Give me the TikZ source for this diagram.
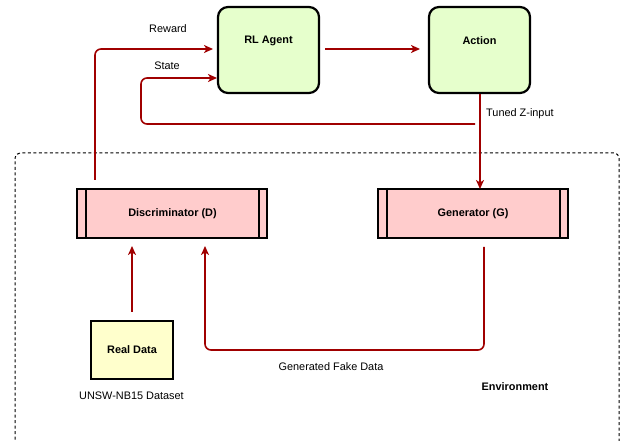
\documentclass[tikz,border=0pt]{standalone}
\usepackage{fontspec}
\setmainfont{Liberation Sans}
\usetikzlibrary{arrows.meta}
\definecolor{arr}{HTML}{A00000}
\definecolor{agentfill}{HTML}{E6FFCC}
\definecolor{ganfill}{HTML}{FFCCCC}
\definecolor{datafill}{HTML}{FFFFCC}
\tikzset{
  x=1pt, y=-1pt,
  agentbox/.style={draw=black, line width=2.2pt, fill=agentfill, rounded corners=10pt, minimum width=101pt, minimum height=86pt, inner sep=0pt},
  ganbox/.style={draw=black, line width=2pt, fill=ganfill, minimum width=190pt, minimum height=49pt, inner sep=0pt},
  databox/.style={draw=black, line width=2.2pt, fill=datafill, minimum width=82pt, minimum height=58pt, inner sep=0pt},
  flow/.style={draw=arr, line width=1.6pt, rounded corners=6pt, -{Stealth[length=9pt,width=8pt,inset=2.5pt]}},
  lbl/.style={font=\fontsize{10.9}{12}\selectfont, inner sep=0pt},
  blbl/.style={font=\fontsize{10.9}{12}\selectfont\bfseries, inner sep=0pt},
}
\begin{document}
\begin{tikzpicture}
\useasboundingbox (0,0) rectangle (641,441);
% environment dashed frame
\draw[line width=1pt, dash pattern=on 3pt off 2.5pt, rounded corners=5pt] (15,445) -- (15,153) -- (619,153) -- (619,445);
% top nodes
\node[agentbox] (agent) at (268.5,50) {};
\node[blbl] (agentt) at (268.5,41) {RL Agent};
\node[agentbox] (action) at (479.5,50) {};
\node[blbl] (actiont) at (479.5,41) {Action};
% GAN boxes
\node[ganbox] (disc) at (172,213.5) {};
\draw[line width=2pt] ([xshift=10pt]disc.north west) -- ([xshift=10pt]disc.south west)
  ([xshift=-9pt]disc.north east) -- ([xshift=-9pt]disc.south east);
\node[blbl] (disct) at (172.5,214) {Discriminator (D)};
\node[ganbox] (gen) at (473,213.5) {};
\draw[line width=2pt] ([xshift=10pt]gen.north west) -- ([xshift=10pt]gen.south west)
  ([xshift=-9pt]gen.north east) -- ([xshift=-9pt]gen.south east);
\node[blbl] (gent) at (473,214) {Generator (G)};
% real data
\node[databox] (real) at (132,350) {};
\node[blbl] (realt) at (132,350) {Real Data};
\node[lbl] (unsw) at (131.5,396) {UNSW-NB15 Dataset};
% labels
\node[lbl] (reward) at (168,29) {Reward};
\node[lbl] (state) at (167,66) {State};
\node[lbl, anchor=west] (tuned) at (486,114) {Tuned Z-input};
\node[lbl] (fake) at (331,367) {Generated Fake Data};
\node[blbl] (env) at (515,387) {Environment};
% coordinates
\coordinate (rwS) at (95,180);
\coordinate (rwE) at (213,49);
\coordinate (stS) at (475,124);
\coordinate (stE) at (217,78);
\coordinate (rdS) at (132,312);
\coordinate (rdE) at (132,246);
\coordinate (fkS) at (484,247);
\coordinate (fkE) at (205,246);
% connectors
\draw[flow] (rwS) -- (95,49) -- (rwE);
\draw[flow] (stS) -- (141,124) -- (141,78) -- (stE);
\draw[flow] (325,49) -- (420,49);
\draw[flow] (action.south -| 480,0) -- (480,189);
\draw[flow] (rdS) -- (rdE);
\draw[flow] (fkS) -- (484,350) -- (205,350) -- (fkE);
\end{tikzpicture}
\end{document}
